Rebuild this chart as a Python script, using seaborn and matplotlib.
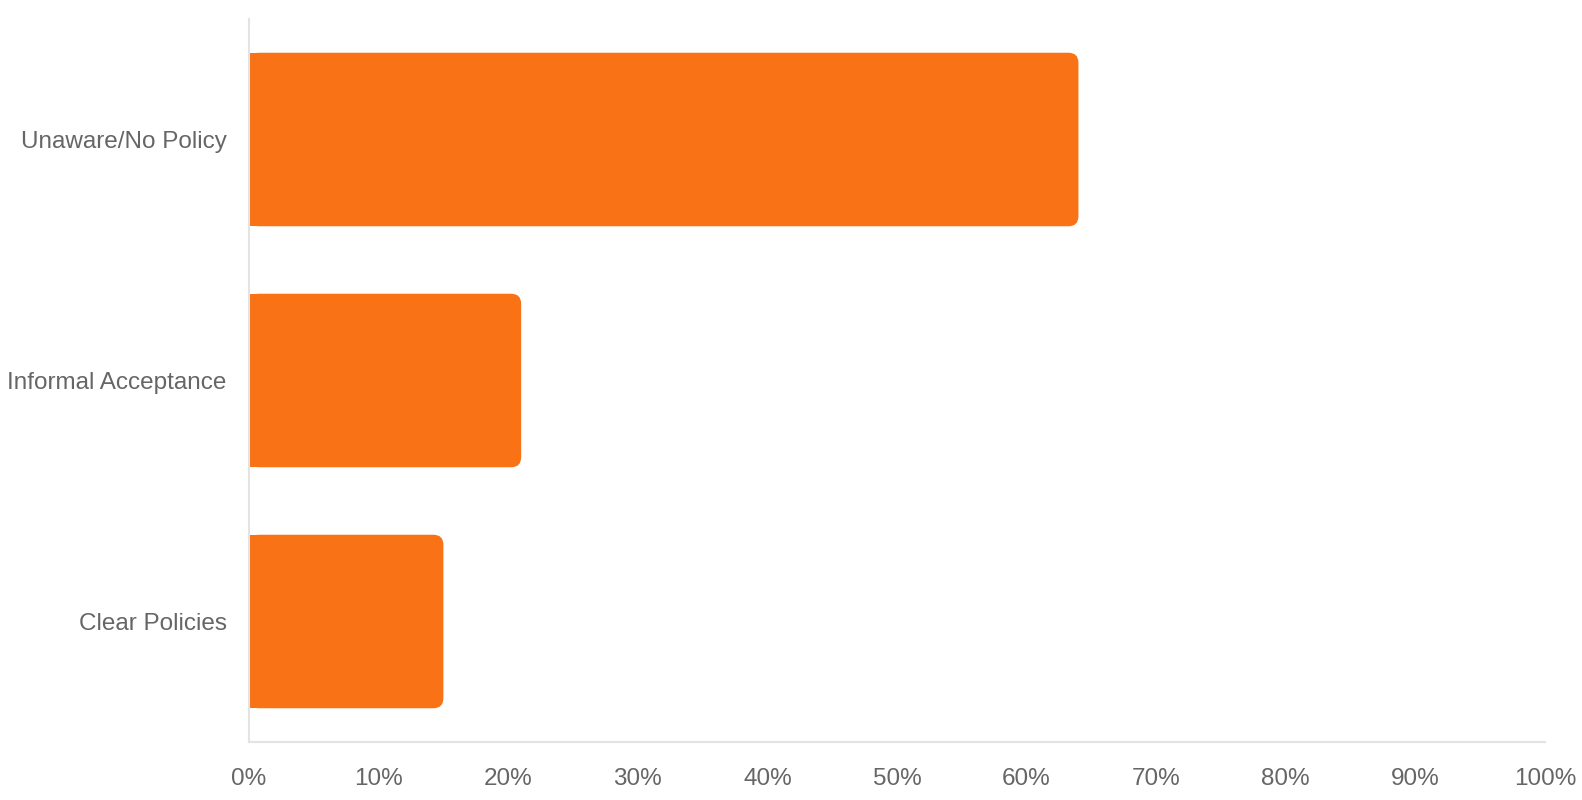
import matplotlib.pyplot as plt
import seaborn as sns
import pandas as pd
from matplotlib.patches import FancyBboxPatch, Rectangle

categories = ["Unaware/No Policy", "Informal Acceptance", "Clear Policies"]
values = [64, 21, 15]
ticks = list(range(0, 101, 10))

BAR_COLOR = "#F97316"
TEXT_COLOR = "#666666"
LINE_COLOR = "#E3E3E3"

sns.set_style("white")
plt.rcParams["font.family"] = ["Liberation Sans", "DejaVu Sans"]

df = pd.DataFrame({"category": categories, "value": values})

fig = plt.figure(figsize=(15.82, 8), dpi=100)
ax = fig.add_axes([249 / 1582, 1 - 742 / 800, (1545 - 249) / 1582, (742 - 19) / 800])

sns.barplot(data=df, x="value", y="category", orient="h", color=BAR_COLOR,
            width=0.72, saturation=1, ax=ax)
ax.set_xlim(0, 100)
ax.set_ylim(2.5, -0.5)

# swap plain bars for bars with rounded right corners
bbox = ax.get_window_extent()
px_x = bbox.width / 100
px_y = bbox.height / 3
radius_px = 10
rx = radius_px / px_x
for patch in list(ax.patches):
    x0, y0 = patch.get_x(), patch.get_y()
    w, h = patch.get_width(), patch.get_height()
    patch.remove()
    ax.add_patch(FancyBboxPatch((x0, y0), w, h,
                                boxstyle=f"round,pad=0,rounding_size={rx}",
                                mutation_aspect=px_x / px_y,
                                facecolor=BAR_COLOR, edgecolor="none", zorder=2))
    ax.add_patch(Rectangle((x0, y0), w / 2, h, facecolor=BAR_COLOR,
                           edgecolor="none", zorder=2))

ax.set_xticks(ticks)
ax.set_xticklabels([f"{t}%" for t in ticks])
ax.tick_params(axis="x", length=0, pad=19, labelsize=17.5, labelcolor=TEXT_COLOR)
ax.tick_params(axis="y", length=0, pad=16, labelsize=17.5, labelcolor=TEXT_COLOR)
ax.set_xlabel("")
ax.set_ylabel("")
for side in ["top", "right"]:
    ax.spines[side].set_visible(False)
for side in ["left", "bottom"]:
    ax.spines[side].set_color(LINE_COLOR)
    ax.spines[side].set_linewidth(1.5)

plt.savefig("out.png", dpi=100)
